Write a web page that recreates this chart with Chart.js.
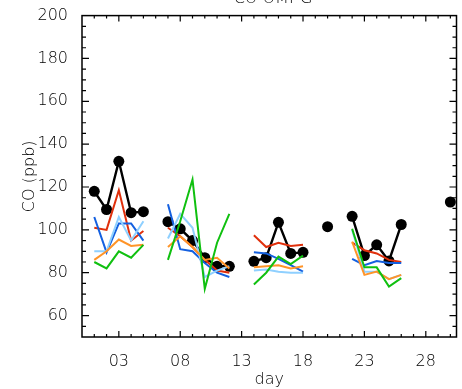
<!DOCTYPE html>
<html lang="en">
<head>
<meta charset="UTF-8">
<title>CO</title>
<script src="https://cdn.jsdelivr.net/npm/chart.js"></script>
<style>
  body { margin: 0; background: #fff; }
  canvas { display: block; }
</style>
</head>
<body>
<canvas id="coChart" width="462" height="389"></canvas>
<script>
// data (day of month, CO in ppb); null = no value
const days = [1,2,3,4,5,6,7,8,9,10,11,12,13,14,15,16,17,18,19,20,21,22,23,24,25,26,27,28,29,30];
const obs = [118,109.5,132,108,108.5,null,103.8,100.5,95,87,83,83,null,85.3,87,103.5,89,89.5,null,101.5,null,106.3,88,93,85.5,102.5,null,null,null,113];
const redRun = [101,100,118.5,95,99.5,null,101,97,92,86,81,80,null,97.5,92,94,92.5,93,null,null,null,94,90.5,89,86,85,null,null,null,null];
const blueRun = [106,89.5,103,103,95,null,112,91,90,84.5,80,78,null,89.5,89,86.5,83.5,80.5,null,null,null,86.5,83.5,85.5,84.5,84.5,null,null,null,null];
const lightBlueRun = [90,90,106,95,104,null,96,107.5,101,78,81,83,null,81,81.5,80.5,80,80,null,null,null,100,80.5,80.5,77,79,null,null,null,null];
const orangeRun = [86,90,95.5,92.5,93,null,92,97,92,86,87,82,null,82.5,83,83.5,82,83,null,null,null,94.5,79,80.5,77,79,null,null,null,null];
const greenRun = [85,82,90,87,93,null,86,104,123.5,72.5,94,107.5,null,74.5,80,87.5,84,88,null,null,null,100.5,82.5,82.5,73.5,77.5,null,null,null,null];

const xTicks = [3, 8, 13, 18, 23, 28];
const xTickLabels = ['03', '08', '13', '18', '23', '28'];
const yTicks = [60, 80, 100, 120, 140, 160, 180, 200];

function pts(arr) {
    return days.map((d, i) => ({ x: d, y: arr[i] }));
}

function runLine(arr, color) {
    return {
        data: pts(arr),
        borderColor: color,
        borderWidth: 2,
        pointRadius: 0,
        spanGaps: false
    };
}

Chart.defaults.font.family = 'DejaVu Sans';
Chart.defaults.font.size = 16;
Chart.defaults.font.weight = 300;
Chart.defaults.color = '#000';

// box, inward ticks and axis titles, IDL style
const frame = {
    id: 'frame',
    afterDraw(chart) {
        const c = chart.ctx;
        const a = chart.chartArea;
        const xs = chart.scales.x, ys = chart.scales.y;
        c.save();
        c.strokeStyle = '#000';
        c.lineWidth = 1.5;
        c.strokeRect(a.left, a.top, a.right - a.left, a.bottom - a.top);
        c.lineWidth = 1.2;
        c.beginPath();
        for (let d = 1; d <= 30; d++) {
            const px = xs.getPixelForValue(d);
            const len = xTicks.includes(d) ? 6 : 3;
            c.moveTo(px, a.bottom); c.lineTo(px, a.bottom - len);
            c.moveTo(px, a.top); c.lineTo(px, a.top + len);
        }
        for (let v = 55; v < 200; v += 5) {
            const py = ys.getPixelForValue(v);
            const len = v % 20 === 0 ? 7 : 4;
            c.moveTo(a.left, py); c.lineTo(a.left + len, py);
            c.moveTo(a.right, py); c.lineTo(a.right - len, py);
        }
        c.stroke();

        c.fillStyle = '#000';
        c.font = '300 16px "DejaVu Sans"';
        c.textAlign = 'center';
        c.textBaseline = 'middle';
        c.fillText('day', (a.left + a.right) / 2, 380);
        c.textBaseline = 'alphabetic';
        c.fillText('CO OMI-G', 273, 3);
        c.translate(30, (a.top + a.bottom) / 2);
        c.rotate(-Math.PI / 2);
        c.textBaseline = 'middle';
        c.fillText('CO (ppb)', 0, 0);
        c.restore();
    }
};

new Chart(document.getElementById('coChart'), {
    type: 'line',
    data: {
        datasets: [
            runLine(greenRun, '#10c010'),
            runLine(orangeRun, '#ff9428'),
            runLine(lightBlueRun, '#8fd0ff'),
            runLine(blueRun, '#1460e0'),
            runLine(redRun, '#e0300c'),
            {
                data: pts(obs),
                borderColor: '#000',
                backgroundColor: '#000',
                borderWidth: 2.4,
                pointRadius: 5.5,
                pointBorderWidth: 0,
                spanGaps: false
            }
        ]
    },
    options: {
        responsive: false,
        animation: false,
        layout: { padding: { top: 13, right: 5, left: 0, bottom: 0 } },
        plugins: {
            legend: { display: false },
            tooltip: { enabled: false }
        },
        scales: {
            x: {
                type: 'linear',
                min: 0,
                max: 30.5,
                grid: { display: false },
                border: { display: false },
                afterBuildTicks: s => { s.ticks = xTicks.map(v => ({ value: v })); },
                afterFit: s => { s.height = 52; },
                ticks: {
                    padding: 7,
                    maxRotation: 0,
                    callback: (v, i) => xTickLabels[i]
                }
            },
            y: {
                min: 50,
                max: 200,
                grid: { display: false },
                border: { display: false },
                afterBuildTicks: s => { s.ticks = yTicks.map(v => ({ value: v })); },
                afterFit: s => { s.width = 82; },
                ticks: { padding: 6 }
            }
        }
    },
    plugins: [frame]
});
</script>
</body>
</html>
